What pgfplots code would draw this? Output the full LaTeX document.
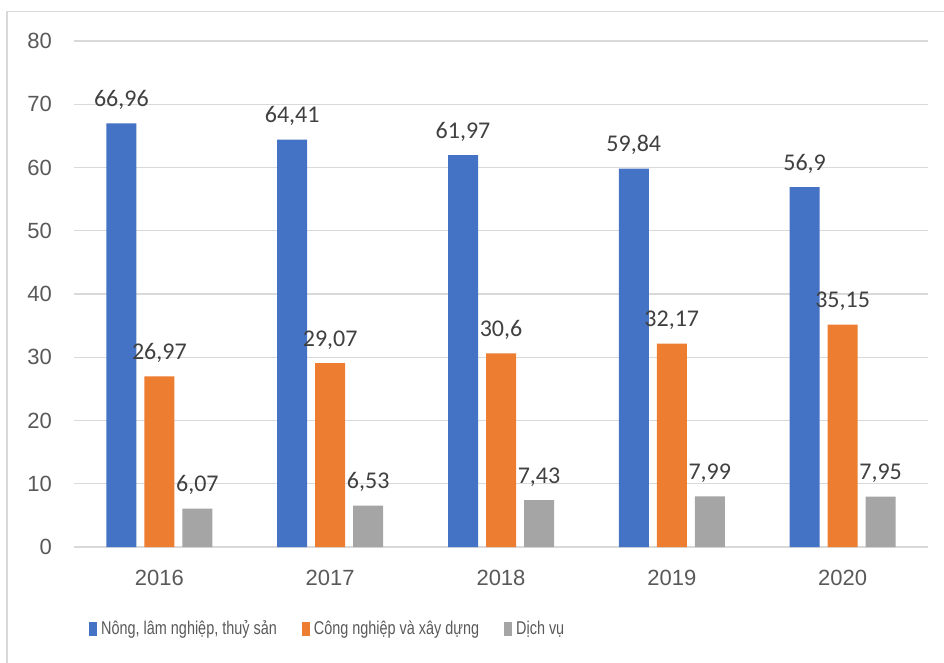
\documentclass[border=0pt]{standalone}
\usepackage{fontspec}
\setmainfont{Liberation Sans}
\newfontfamily\carlito{Carlito}
\newfontfamily\narrowfont[FakeStretch=0.78]{Liberation Sans}
\usepackage{pgfplots}
\pgfplotsset{compat=1.18}
\definecolor{cblue}{HTML}{4472C4}
\definecolor{corange}{HTML}{ED7D31}
\definecolor{cgray}{HTML}{A5A5A5}
\definecolor{gridc}{HTML}{D9D9D9}
\definecolor{tickc}{HTML}{595959}
\definecolor{labc}{HTML}{404040}
\pgfplotsset{sqlegend/.style={legend image code/.code={\fill[##1] (0pt,-7pt) rectangle (8pt,7pt);}}}
\begin{document}
\begin{tikzpicture}[x=1pt,y=1pt]
\useasboundingbox (0,0) rectangle (944,662);
\draw[gridc, line width=1.3pt] (7,-20) -- (7,650.5) -- (970,650.5);
\begin{axis}[
  at={(74pt,115pt)}, anchor=south west,
  scale only axis, width=854pt, height=506pt,
  xmin=-0.5, xmax=4.5, ymin=0, ymax=80,
  enlargelimits=false,
  ybar=8pt, bar width=30pt,
  xtick={0,1,2,3,4}, xticklabels={2016,2017,2018,2019,2020},
  ytick={0,10,...,80},
  ymajorgrids, major grid style={draw=gridc, line width=1.2pt},
  axis line style={draw=none}, tick style={draw=none},
  /pgf/number format/assume math mode=true,
  ticklabel style={font=\fontsize{22}{26}\selectfont, text=tickc},
  yticklabel style={inner sep=0pt, xshift=-22pt},
  xticklabel style={inner sep=0pt, yshift=-19pt},
  nodes near coords={\pgfmathprintnumber[use comma, assume math mode=true]{\pgfplotspointmeta}},
  every node near coord/.append style={font=\carlito\fontsize{24}{28}\selectfont, text=labc, anchor=base, inner sep=0pt, yshift=17pt},
  legend columns=3,
  legend style={at={(0.01756,-0.1615)}, anchor=west, draw=none, fill=none,
    font=\narrowfont\fontsize{18.5}{22}\selectfont, text=tickc,
    inner sep=0pt, column sep=0pt, nodes={inner sep=0pt},
    /tikz/every odd column/.append style={column sep=4pt},
    /tikz/every even column/.append style={column sep=25pt}},
  legend cell align=left,
]
\addplot[fill=cblue, draw=none, sqlegend] coordinates {(0,66.96) (1,64.41) (2,61.97) (3,59.84) (4,56.9)};
\addplot[fill=corange, draw=none, sqlegend] coordinates {(0,26.97) (1,29.07) (2,30.6) (3,32.17) (4,35.15)};
\addplot[fill=cgray, draw=none, sqlegend] coordinates {(0,6.07) (1,6.53) (2,7.43) (3,7.99) (4,7.95)};
\legend{Nông{,} lâm nghiệp{,} thuỷ sản, Công nghiệp và xây dựng, Dịch vụ}
\end{axis}
\end{tikzpicture}
\end{document}
